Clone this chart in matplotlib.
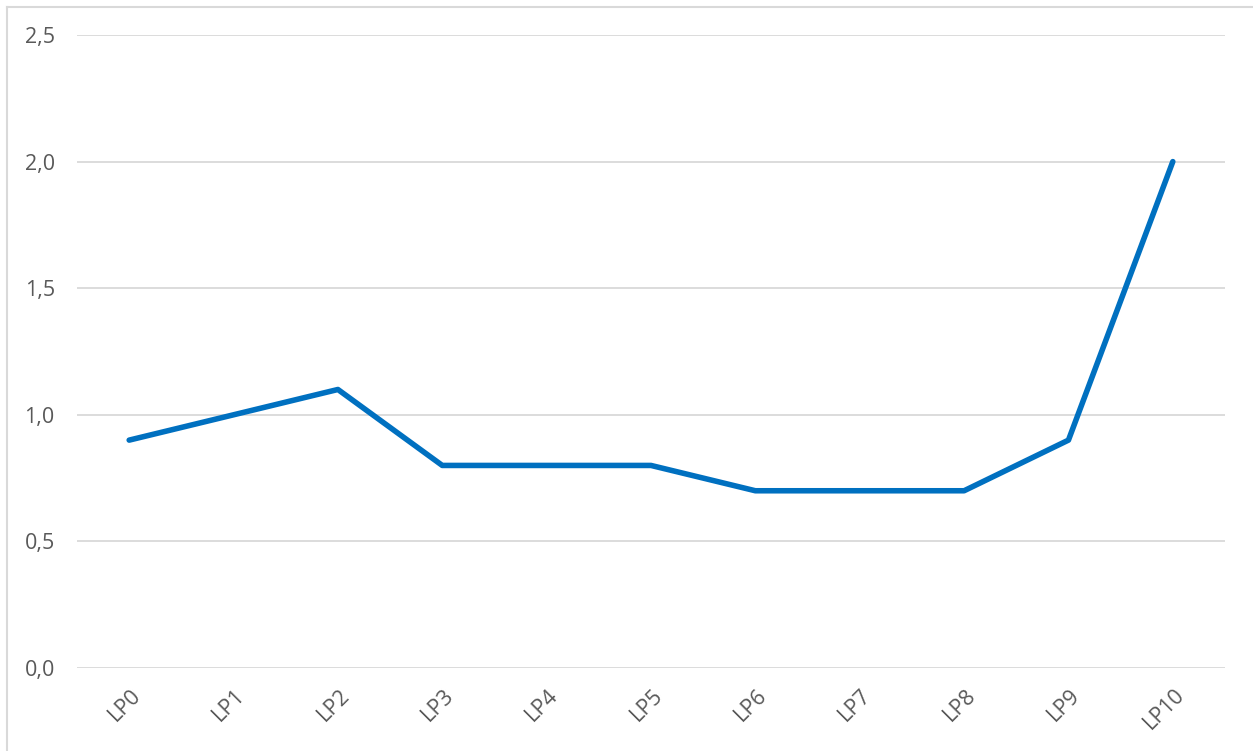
import matplotlib
matplotlib.use("Agg")
import matplotlib.pyplot as plt
from matplotlib.lines import Line2D
from matplotlib.ticker import FuncFormatter

categories = ["LP0", "LP1", "LP2", "LP3", "LP4", "LP5", "LP6", "LP7", "LP8", "LP9", "LP10"]
values = [0.9, 1.0, 1.1, 0.8, 0.8, 0.8, 0.7, 0.7, 0.7, 0.9, 2.0]
yticks = [0.0, 0.5, 1.0, 1.5, 2.0, 2.5]

plt.rcParams['font.family'] = ['Open Sans', 'DejaVu Sans']

W, H = 1253, 751
fig = plt.figure(figsize=(W / 100, H / 100), dpi=100)
ax = fig.add_axes([77 / W, (H - 668) / H, (1225 - 77) / W, (668 - 35) / H])

x = list(range(len(categories)))
ax.plot(x, values, color="#0070C0", linewidth=4.0, solid_joinstyle="round", solid_capstyle="round", zorder=3)

ax.set_xlim(-0.5, len(categories) - 0.5)
ax.set_ylim(0, 2.5)
ax.set_yticks(yticks)
ax.yaxis.set_major_formatter(FuncFormatter(lambda v, p: f"{v:.1f}".replace(".", ",")))
ax.set_xticks(x)
ax.set_xticklabels(categories, rotation=45, ha="right", va="top", rotation_mode="anchor")
ax.grid(axis="y", color="#D9D9D9", linewidth=1.3)
ax.set_axisbelow(True)
for s in ax.spines.values():
    s.set_visible(False)
ax.tick_params(axis="both", length=0, labelsize=15.5, colors="#595959")
ax.tick_params(axis="y", pad=16)
ax.tick_params(axis="x", pad=12)
for lab in ax.get_xticklabels():
    lab.set_transform(lab.get_transform() + matplotlib.transforms.ScaledTranslation(0.01, 0, fig.dpi_scale_trans))

# outer chart-area border (left and top visible)
fig.add_artist(Line2D([6.5 / W, 6.5 / W], [0, 1 - 6.5 / H], transform=fig.transFigure, color="#D9D9D9", linewidth=1.5))
fig.add_artist(Line2D([6.5 / W, 1], [1 - 6.5 / H, 1 - 6.5 / H], transform=fig.transFigure, color="#D9D9D9", linewidth=1.5))

fig.savefig("out.png", dpi=100)
